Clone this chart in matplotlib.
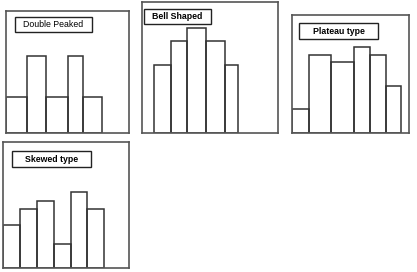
import matplotlib
matplotlib.use("Agg")
import matplotlib.pyplot as plt
from matplotlib.patches import Rectangle

W, H = 417, 272

# panel titles
titles = ["Double Peaked", "Bell Shaped", "Plateau type", "Skewed type"]
title_bold = [False, True, True, True]

# bin edges (relative units) and bar heights for each histogram shape
edges_double = [0, 21, 40, 62, 77, 96]
heights_double = [36, 77, 36, 77, 36]

edges_bell = [12, 29, 45, 64, 83, 96]
heights_bell = [68, 92, 105, 92, 68]

edges_plateau = [0, 17, 39, 62, 78, 94, 109]
heights_plateau = [24, 78, 71, 86, 78, 47]

edges_skewed = [0, 17, 34, 51, 68, 84, 101]
heights_skewed = [43, 59, 67, 24, 76, 59]

edges_all = [edges_double, edges_bell, edges_plateau, edges_skewed]
heights_all = [heights_double, heights_bell, heights_plateau, heights_skewed]

# layout in pixels: (left, top, right, bottom), axis ranges, title box (x0,y0,x1,y1)
boxes = [(6, 11, 129, 133), (142, 2, 278, 133), (292, 15, 409, 133), (3, 142, 129, 268)]
xranges = [123, 136, 117, 126]
yranges = [122, 131, 118, 126]
label_boxes = [(15, 17, 92, 32), (144, 9, 211, 24), (299, 23, 378, 39), (12, 151, 91, 167)]

fig = plt.figure(figsize=(W / 100, H / 100), dpi=100)
fig.patch.set_facecolor("white")

for i in range(4):
    l, t, r, b = boxes[i]
    ax = fig.add_axes([l / W, 1 - b / H, (r - l) / W, (b - t) / H])
    ax.set_xlim(0, xranges[i])
    ax.set_ylim(0, yranges[i])
    ax.set_xticks([])
    ax.set_yticks([])
    for sp in ax.spines.values():
        sp.set_color("#555555")
        sp.set_linewidth(1.2)
    e = edges_all[i]
    hts = heights_all[i]
    lefts = e[:-1]
    widths = [e[k + 1] - e[k] for k in range(len(hts))]
    ax.bar(lefts, hts, width=widths, align="edge", facecolor="none",
           edgecolor="#333333", linewidth=1.1)

    # title box
    x0, y0, x1, y1 = label_boxes[i]
    fig.patches.append(Rectangle((x0 / W, 1 - y1 / H), (x1 - x0) / W, (y1 - y0) / H,
                                 transform=fig.transFigure, facecolor="white",
                                 edgecolor="#222222", linewidth=1.0))
    fig.text((x0 + x1) / 2 / W, 1 - (y0 + y1) / 2 / H, titles[i],
             ha="center", va="center", fontsize=6.3,
             fontweight="bold" if title_bold[i] else "normal",
             family="Liberation Sans")

fig.savefig("out.png", dpi=100)
